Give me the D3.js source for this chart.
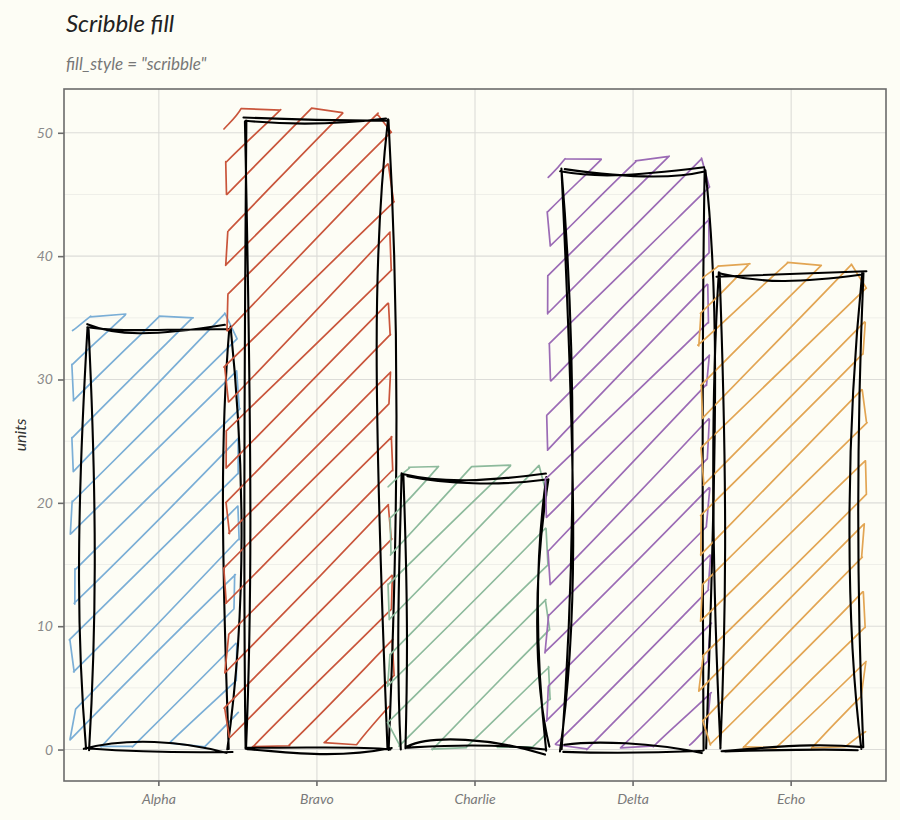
<!DOCTYPE html>
<html>
<head>
<meta charset="utf-8">
<script src="https://cdn.jsdelivr.net/npm/d3@7"></script>
<style>
  html, body { margin: 0; padding: 0; background: #fdfdf5; }
  svg { display: block; }
  text { font-family: "Lato", "Open Sans", sans-serif; font-style: italic; }
</style>
</head>
<body>
<svg id="chart" width="900" height="820"></svg>
<script>
// ---- data ----
const categories = ["Alpha", "Bravo", "Charlie", "Delta", "Echo"];
const values = [34.1, 51.0, 22.2, 47.0, 38.6];
const colors = ["#7aaed6", "#c9553b", "#8dba9c", "#9b6bb5", "#e2a553"];
const yTicks = [0, 10, 20, 30, 40, 50];
const yMinorTicks = [5, 15, 25, 35, 45];
const titleText = "Scribble fill";
const subtitleText = 'fill_style = "scribble"';
const yAxisTitle = "units";

// ---- layout ----
const W = 900, H = 820;
const panel = { left: 64, right: 886, top: 89, bottom: 781 };
const svg = d3.select("#chart");
svg.append("rect").attr("width", W).attr("height", H).attr("fill", "#fdfdf5");

const x = d3.scaleBand().domain(categories).range([panel.left, panel.right]).paddingInner(0).paddingOuter(0.1);
const maxV = d3.max(values);
const y = d3.scaleLinear().domain([-maxV * 0.05, maxV * 1.05]).range([panel.bottom, panel.top]);
const barW = x.bandwidth() * 0.9;

// seeded PRNG for the sketchy style only
function mulberry32(a) {
  return function () {
    a |= 0; a = a + 0x6D2B79F5 | 0;
    let t = Math.imul(a ^ a >>> 15, 1 | a);
    t = t + Math.imul(t ^ t >>> 7, 61 | t) ^ t;
    return ((t ^ t >>> 14) >>> 0) / 4294967296;
  };
}
const rnd = mulberry32(7771);

function roughSeg(x1, y1, x2, y2, o, overlay) {
  const len = Math.hypot(x2 - x1, y2 - y1);
  let gain = 1;
  if (len > 500) gain = 0.4; else if (len >= 200) gain = -0.0016668 * len + 1.233334;
  let offset = o.maxOffset;
  if (offset * offset * 100 > len * len) offset = len / 10;
  const off = overlay ? offset / 2 : offset;
  const rf = v => o.roughness * gain * (rnd() * 2 * v - v);
  const div = 0.2 + rnd() * 0.2;
  let mdx = o.bowing * o.maxOffset * (y2 - y1) / 200;
  let mdy = o.bowing * o.maxOffset * (x1 - x2) / 200;
  mdx = rf(mdx); mdy = rf(mdy);
  const p0 = [x1 + rf(off), y1 + rf(off)];
  const c1 = [mdx + x1 + (x2 - x1) * div + rf(off), mdy + y1 + (y2 - y1) * div + rf(off)];
  const c2 = [mdx + x1 + 2 * (x2 - x1) * div + rf(off), mdy + y1 + 2 * (y2 - y1) * div + rf(off)];
  const p3 = [x2 + rf(off), y2 + rf(off)];
  return `M${p0[0].toFixed(2)},${p0[1].toFixed(2)}C${c1[0].toFixed(2)},${c1[1].toFixed(2)} ${c2[0].toFixed(2)},${c2[1].toFixed(2)} ${p3[0].toFixed(2)},${p3[1].toFixed(2)}`;
}
function straightSeg(x1, y1, x2, y2) {
  return `M${x1.toFixed(2)},${y1.toFixed(2)}L${x2.toFixed(2)},${y2.toFixed(2)}`;
}

// ---- gridlines ----
const grid = svg.append("g");
grid.selectAll("line.minor").data(yMinorTicks).enter().append("line")
  .attr("x1", panel.left).attr("x2", panel.right)
  .attr("y1", d => y(d)).attr("y2", d => y(d))
  .attr("stroke", "#efefe9").attr("stroke-width", 1);
grid.selectAll("line.major").data(yTicks).enter().append("line")
  .attr("x1", panel.left).attr("x2", panel.right)
  .attr("y1", d => y(d)).attr("y2", d => y(d))
  .attr("stroke", "#dcdcd8").attr("stroke-width", 1.1);
grid.selectAll("line.vert").data(categories).enter().append("line")
  .attr("x1", d => x(d) + x.bandwidth() / 2).attr("x2", d => x(d) + x.bandwidth() / 2)
  .attr("y1", panel.top).attr("y2", panel.bottom)
  .attr("stroke", "#dcdcd8").attr("stroke-width", 1.1);

// ---- bars ----
const bars = svg.append("g");
const fillOpt = { roughness: 0.8, bowing: 0.6, maxOffset: 1.2 };
const edgeOpt = { roughness: 2.6, bowing: 3.2, maxOffset: 2 };
const gap = 24; // perpendicular hachure gap

categories.forEach((c, i) => {
  const cx = x(c) + x.bandwidth() / 2;
  const bx0 = cx - barW / 2, bx1 = cx + barW / 2;
  const by0 = y(values[i]), by1 = y(0);

  // fill region (sketchy offset around the bar)
  const fx0 = bx0 - 17 + (rnd() - 0.5) * 6;
  const fx1 = bx1 + 4 + (rnd() - 0.5) * 6;
  const fy0 = by0 - 10 + (rnd() - 0.5) * 6;
  const fy1 = by1 - 4 + (rnd() - 0.5) * 4;
  const step = gap * Math.SQRT2;
  const cMin = fx0 + fy0, cMax = fx1 + fy1;
  const lines = [];
  for (let k = cMin + step * 0.5; k < cMax; k += step) {
    const ax = Math.max(fx0, k - fy1), ay = k - ax;       // lower-left end
    const bxx = Math.min(fx1, k - fy0), byy = k - bxx;    // upper-right end
    if (bxx - ax < 2) continue;
    const j = () => (rnd() - 0.5) * 6;
    lines.push({ a: [ax + j(), ay + j()], b: [bxx + j(), byy + j()] });
  }
  let d = "";
  let prev = null;
  lines.forEach((ln, k) => {
    const s = k % 2 === 0 ? ln.a : ln.b;
    const e = k % 2 === 0 ? ln.b : ln.a;
    if (prev) d += straightSeg(prev[0], prev[1], s[0], s[1]);
    d += roughSeg(s[0], s[1], e[0], e[1], fillOpt, false);
    prev = e;
  });
  bars.append("path").attr("d", d).attr("fill", "none")
    .attr("stroke", colors[i]).attr("stroke-width", 1.7)
    .attr("stroke-linejoin", "round").attr("stroke-linecap", "round");

  // rough outline: each edge drawn twice
  const edges = [
    [bx0, by0, bx1, by0], [bx1, by0, bx1, by1],
    [bx1, by1, bx0, by1], [bx0, by1, bx0, by0]
  ];
  let od = "";
  edges.forEach(e => {
    od += roughSeg(e[0], e[1], e[2], e[3], edgeOpt, false);
    od += roughSeg(e[0], e[1], e[2], e[3], edgeOpt, true);
  });
  bars.append("path").attr("d", od).attr("fill", "none")
    .attr("stroke", "#000").attr("stroke-width", 2.1)
    .attr("stroke-linejoin", "round").attr("stroke-linecap", "round");
});

// ---- panel border ----
svg.append("rect")
  .attr("x", panel.left).attr("y", panel.top)
  .attr("width", panel.right - panel.left).attr("height", panel.bottom - panel.top)
  .attr("fill", "none").attr("stroke", "#6b6b6b").attr("stroke-width", 1.6);

// ---- axes ----
const yAxis = d3.axisLeft(y).tickValues(yTicks).tickSize(6).tickPadding(5);
const gy = svg.append("g").attr("transform", `translate(${panel.left},0)`).call(yAxis);
gy.select(".domain").remove();
gy.selectAll(".tick line").attr("stroke", "#6b6b6b").attr("stroke-width", 1.6);
gy.selectAll(".tick text").attr("fill", "#8a8a8a").attr("font-size", 14)
  .style("font-family", '"Lato", sans-serif').style("font-style", "italic");

const xAxis = d3.axisBottom(x).tickSize(5).tickPadding(8);
const gx = svg.append("g").attr("transform", `translate(0,${panel.bottom})`).call(xAxis);
gx.select(".domain").remove();
gx.selectAll(".tick line").attr("stroke", "#6b6b6b").attr("stroke-width", 1.6);
gx.selectAll(".tick text").attr("fill", "#7a7a7a").attr("font-size", 14)
  .style("font-family", '"Lato", sans-serif').style("font-style", "italic");

// ---- titles ----
svg.append("text").attr("x", 66).attr("y", 32).attr("font-size", 24)
  .attr("fill", "#222").text(titleText);
svg.append("text").attr("x", 66).attr("y", 70).attr("font-size", 17)
  .attr("fill", "#777").text(subtitleText);
svg.append("text")
  .attr("transform", `translate(26,${(panel.top + panel.bottom) / 2}) rotate(-90)`)
  .attr("text-anchor", "middle").attr("font-size", 16).attr("fill", "#333")
  .text(yAxisTitle);
</script>
</body>
</html>
